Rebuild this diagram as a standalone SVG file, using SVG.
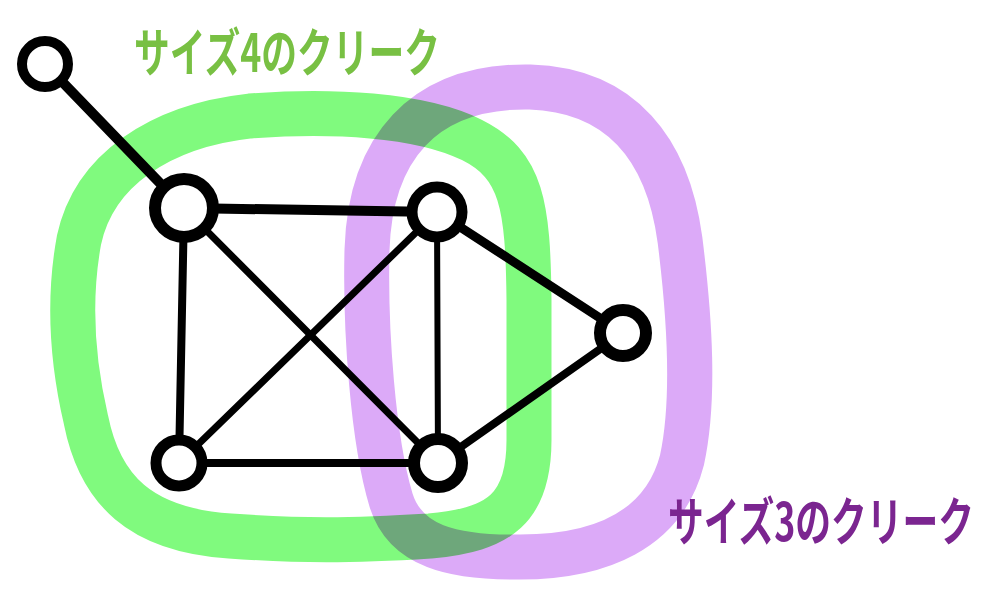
<svg xmlns="http://www.w3.org/2000/svg" width="985" height="590" viewBox="0 0 985 590">
<style>
.loop{fill:none;stroke-linejoin:round;mix-blend-mode:multiply}
.edge{stroke:#000;stroke-linecap:round;fill:none}
.node{fill:#fff;stroke:#000}
.lbl{font-family:"Noto Sans CJK JP","Noto Sans",sans-serif;font-weight:700;font-size:36px}
</style>
<rect width="985" height="590" fill="#fff"/>
<g id="cliques">
<path id="clique4" class="loop" stroke="#80fa7e" stroke-width="45" d="M 250,116 C 330,110 420,114 472,140 C 522,165 528,205 529,300 L 529,440 C 529,508 500,530 430,536 C 350,541 300,541 230,536 C 140,530 100,490 86,420 C 72,360 68,300 79,240 C 94,170 160,126 250,116 Z"/>
<path id="clique3" class="loop" stroke="#dcaaf8" stroke-width="45" d="M 530,87 C 622,90 668,150 680,240 C 690,320 695,400 682,460 C 664,530 600,557 520,557 C 452,558 405,546 391,500 C 373,440 365,330 367,250 C 370,150 422,85 530,87 Z"/>
</g>
<g id="connectors">
<line class="edge" x1="45" y1="64" x2="184" y2="208" stroke-width="10"/>
<line class="edge" x1="184" y1="208" x2="437" y2="212" stroke-width="10"/>
<line class="edge" x1="184" y1="208" x2="179" y2="463" stroke-width="8"/>
<line class="edge" x1="184" y1="208" x2="438" y2="463" stroke-width="7"/>
<line class="edge" x1="437" y1="212" x2="179" y2="463" stroke-width="7"/>
<line class="edge" x1="437" y1="212" x2="438" y2="463" stroke-width="6"/>
<line class="edge" x1="437" y1="212" x2="623" y2="333" stroke-width="9"/>
<line class="edge" x1="623" y1="333" x2="438" y2="463" stroke-width="8"/>
<line class="edge" x1="179" y1="463" x2="438" y2="463" stroke-width="8"/>
</g>
<g id="n1"><circle class="node" cx="45" cy="64" r="23" stroke-width="10"/></g>
<g id="n2"><circle class="node" cx="184" cy="208" r="29" stroke-width="12"/></g>
<g id="n3"><circle class="node" cx="437" cy="212" r="25" stroke-width="11"/></g>
<g id="n4"><circle class="node" cx="623" cy="333" r="23" stroke-width="12"/></g>
<g id="n5"><circle class="node" cx="179" cy="463" r="23" stroke-width="11"/></g>
<g id="n6"><circle class="node" cx="438" cy="463" r="24" stroke-width="12"/></g>
<g id="label4"><text class="lbl" transform="translate(134,72) scale(1,1.45)" x="0" y="0" fill="#78c043" textLength="306" lengthAdjust="spacingAndGlyphs">サイズ4のクリーク</text></g>
<g id="label3"><text class="lbl" transform="translate(668,541) scale(1,1.45)" x="0" y="0" fill="#7b2590" textLength="306" lengthAdjust="spacingAndGlyphs">サイズ3のクリーク</text></g>
</svg>
